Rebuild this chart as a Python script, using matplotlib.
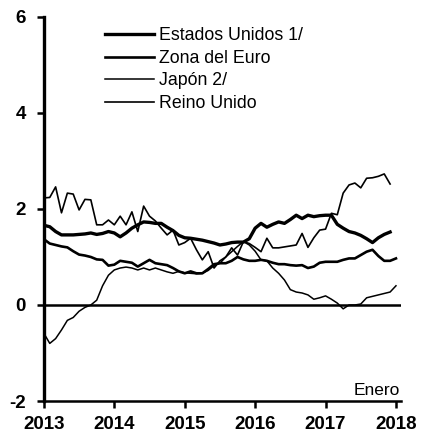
import numpy as np
import matplotlib
matplotlib.use('Agg')
import matplotlib.pyplot as plt

# core inflation, % annual, monthly Jan 2013 onwards
us = [1.66, 1.63, 1.53, 1.46, 1.46, 1.46, 1.47, 1.48, 1.50, 1.47, 1.49, 1.53,
      1.50, 1.42, 1.50, 1.60, 1.67, 1.73, 1.72, 1.70, 1.70, 1.62, 1.55, 1.45,
      1.40, 1.39, 1.37, 1.35, 1.32, 1.29, 1.25, 1.27, 1.30, 1.31, 1.31, 1.38,
      1.60, 1.70, 1.62, 1.68, 1.73, 1.70, 1.78, 1.87, 1.80, 1.87, 1.84, 1.86,
      1.87, 1.87, 1.68, 1.60, 1.53, 1.50, 1.45, 1.38, 1.30, 1.40, 1.47, 1.52]

euro = [1.37, 1.28, 1.25, 1.22, 1.20, 1.12, 1.05, 1.03, 1.00, 0.95, 0.94, 0.82,
        0.84, 0.92, 0.90, 0.88, 0.80, 0.87, 0.94, 0.87, 0.85, 0.83, 0.77, 0.70,
        0.66, 0.70, 0.66, 0.66, 0.75, 0.85, 0.87, 0.87, 0.92, 1.00, 0.95, 0.92,
        0.92, 0.94, 0.92, 0.88, 0.85, 0.85, 0.83, 0.82, 0.83, 0.77, 0.80, 0.88,
        0.90, 0.90, 0.90, 0.94, 0.97, 0.97, 1.04, 1.11, 1.15, 1.02, 0.92, 0.92,
        0.97]

japan = [-0.59, -0.80, -0.70, -0.52, -0.32, -0.26, -0.13, -0.05, 0.00, 0.10, 0.40, 0.62,
         0.73, 0.77, 0.79, 0.77, 0.73, 0.77, 0.73, 0.77, 0.73, 0.69, 0.66, 0.70,
         0.67, 0.66, 0.65, 0.66, 0.72, 0.82, 0.87, 1.00, 1.11, 1.22, 1.32, 1.25,
         1.12, 0.94, 0.92, 0.77, 0.66, 0.52, 0.32, 0.27, 0.25, 0.21, 0.12, 0.15,
         0.19, 0.12, 0.04, -0.08, 0.00, 0.00, 0.02, 0.15, 0.18, 0.21, 0.24, 0.27,
         0.40]

uk = [2.23, 2.24, 2.46, 1.92, 2.33, 2.31, 1.98, 2.20, 2.19, 1.67, 1.67, 1.77,
      1.67, 1.85, 1.67, 1.94, 1.53, 2.06, 1.85, 1.75, 1.60, 1.46, 1.56, 1.25,
      1.30, 1.39, 1.15, 0.94, 1.11, 0.77, 0.92, 1.00, 1.19, 1.04, 1.32, 1.28,
      1.20, 1.11, 1.39, 1.19, 1.19, 1.21, 1.23, 1.25, 1.49, 1.20, 1.40, 1.56,
      1.58, 1.91, 1.88, 2.33, 2.50, 2.54, 2.44, 2.64, 2.65, 2.68, 2.73, 2.52]

labels = ['Estados Unidos 1/', 'Zona del Euro', 'Japón 2/', 'Reino Unido']
years = [2013, 2014, 2015, 2016, 2017, 2018]
yticks = [-2, 0, 2, 4, 6]


def months(series):
    return 2013 + np.arange(len(series)) / 12.0


plt.rcParams['font.family'] = ['Liberation Sans', 'DejaVu Sans']
plt.rcParams['axes.unicode_minus'] = False

fig = plt.figure(figsize=(4.22, 4.34), dpi=100)
ax = fig.add_axes([0.104, 0.076, 0.846, 0.885])

ax.axhline(0, color='black', lw=1.8, zorder=1)

widths = [2.4, 1.9, 1.1, 1.2]
for data, lab, lw in zip([us, euro, japan, uk], labels, widths):
    ax.plot(months(data), data, color='black', lw=lw, label=lab,
            solid_joinstyle='round', zorder=2)

ax.set_xlim(2013, 2018.07)
ax.set_ylim(-2, 6)
ax.set_xticks(years)
ax.set_yticks(yticks)
ax.tick_params(axis='both', direction='out', length=5, width=1.8,
               labelsize=13.5)
ax.tick_params(axis='x', pad=6)
ax.tick_params(axis='y', pad=8)
for t in ax.get_xticklabels() + ax.get_yticklabels():
    t.set_fontweight('bold')

ax.spines['top'].set_visible(False)
ax.spines['right'].set_visible(False)
ax.spines['left'].set_linewidth(2.4)
ax.spines['bottom'].set_linewidth(1.8)

ax.text(0.998, 0.008, 'Enero', transform=ax.transAxes, ha='right',
        va='bottom', fontsize=12.5)

ax.legend(loc='upper left', bbox_to_anchor=(0.15, 0.992), frameon=False,
          fontsize=12.8, handlelength=2.8, handletextpad=0.25,
          labelspacing=0.32, borderaxespad=0.0)

fig.savefig('out.png', dpi=100)
